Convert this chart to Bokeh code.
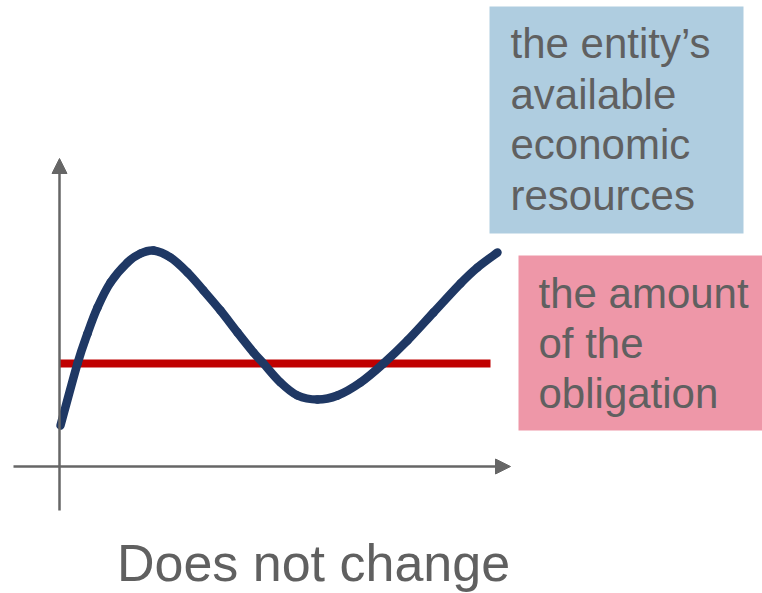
from bokeh.plotting import figure
from bokeh.models import Range1d, Arrow, NormalHead, ColumnDataSource
from bokeh.core.properties import value
from bokeh.embed import file_html
from bokeh.resources import INLINE

# ---- data (diagram units, origin at the axes' crossing, y upwards) ----
resource_x = [1, 18, 28, 38, 51, 68, 81, 94, 111, 128, 144, 161, 178, 194, 204,
              221, 238, 258, 278, 301, 324, 348, 374, 401, 418, 438]
resource_y = [41, 103, 133, 159, 184, 204, 213, 216, 209, 194, 176, 156, 134, 114, 103,
              84, 71, 67, 71, 84, 103, 126, 154, 183, 199, 214]
obligation_x = [0, 431]
obligation_y = [103, 103]

blue_lines = ["the entity\u2019s", "available", "economic", "resources"]
pink_lines = ["the amount", "of the", "obligation"]
caption = "Does not change"

# ---- figure ----
W, H = 762, 593
OX, OY = 59, 466  # origin in picture pixels
p = figure(width=W, height=H,
           x_range=Range1d(0 - OX, W - OX), y_range=Range1d(OY - H, OY),
           output_backend="svg", toolbar_location=None, min_border=0)
p.axis.visible = False
p.grid.visible = False
p.outline_line_color = None
p.background_fill_color = "white"

FONT = value("Liberation Sans")
TEXT_COLOR = "#606060"
AXIS_COLOR = "#666666"

# axes with arrow heads
p.add_layout(Arrow(end=NormalHead(size=15, fill_color=AXIS_COLOR, line_color=AXIS_COLOR, line_width=1),
                   x_start=0, y_start=-44, x_end=0, y_end=308,
                   line_color=AXIS_COLOR, line_width=2.5))
p.add_layout(Arrow(end=NormalHead(size=15, fill_color=AXIS_COLOR, line_color=AXIS_COLOR, line_width=1),
                   x_start=-46, y_start=0, x_end=451, y_end=0,
                   line_color=AXIS_COLOR, line_width=2.5))

# obligation line (red)
p.line(obligation_x, obligation_y, line_color="#C00000", line_width=8, line_cap="butt")

# resources curve (navy), drawn as smooth cubic segments through the read points
n = len(resource_x)
x0, y0, x1, y1, cx0, cy0, cx1, cy1 = [], [], [], [], [], [], [], []
for i in range(n - 1):
    pa = (resource_x[max(i - 1, 0)], resource_y[max(i - 1, 0)])
    pb = (resource_x[i], resource_y[i])
    pc = (resource_x[i + 1], resource_y[i + 1])
    pd = (resource_x[min(i + 2, n - 1)], resource_y[min(i + 2, n - 1)])
    x0.append(pb[0]); y0.append(pb[1]); x1.append(pc[0]); y1.append(pc[1])
    cx0.append(pb[0] + (pc[0] - pa[0]) / 6); cy0.append(pb[1] + (pc[1] - pa[1]) / 6)
    cx1.append(pc[0] - (pd[0] - pb[0]) / 6); cy1.append(pc[1] - (pd[1] - pb[1]) / 6)
p.bezier(x0=x0, y0=y0, x1=x1, y1=y1, cx0=cx0, cy0=cy0, cx1=cx1, cy1=cy1,
         line_color="#1F3864", line_width=8.5, line_cap="round")

# label boxes
p.quad(left=[430], right=[684], top=[460], bottom=[233],
       fill_color="#AFCDE0", line_color=None)
p.quad(left=[459], right=[710], top=[211], bottom=[36],
       fill_color="#EE97A8", line_color=None)

blue_src = ColumnDataSource(dict(x=[451] * len(blue_lines),
                                 y=[423 - 50.5 * i for i in range(len(blue_lines))],
                                 t=blue_lines))
p.text(x="x", y="y", text="t", source=blue_src, text_font=FONT, text_font_size="42px",
       text_color=TEXT_COLOR, text_align="left", text_baseline="alphabetic")

pink_src = ColumnDataSource(dict(x=[479] * len(pink_lines),
                                 y=[173 - 50 * i for i in range(len(pink_lines))],
                                 t=pink_lines))
p.text(x="x", y="y", text="t", source=pink_src, text_font=FONT, text_font_size="42px",
       text_color=TEXT_COLOR, text_align="left", text_baseline="alphabetic")

p.text(x=[254], y=[-96], text=[caption], text_font=FONT, text_font_size="52px",
       text_color=TEXT_COLOR, text_align="center", text_baseline="alphabetic")

open("out.html", "w").write(file_html(p, INLINE))
